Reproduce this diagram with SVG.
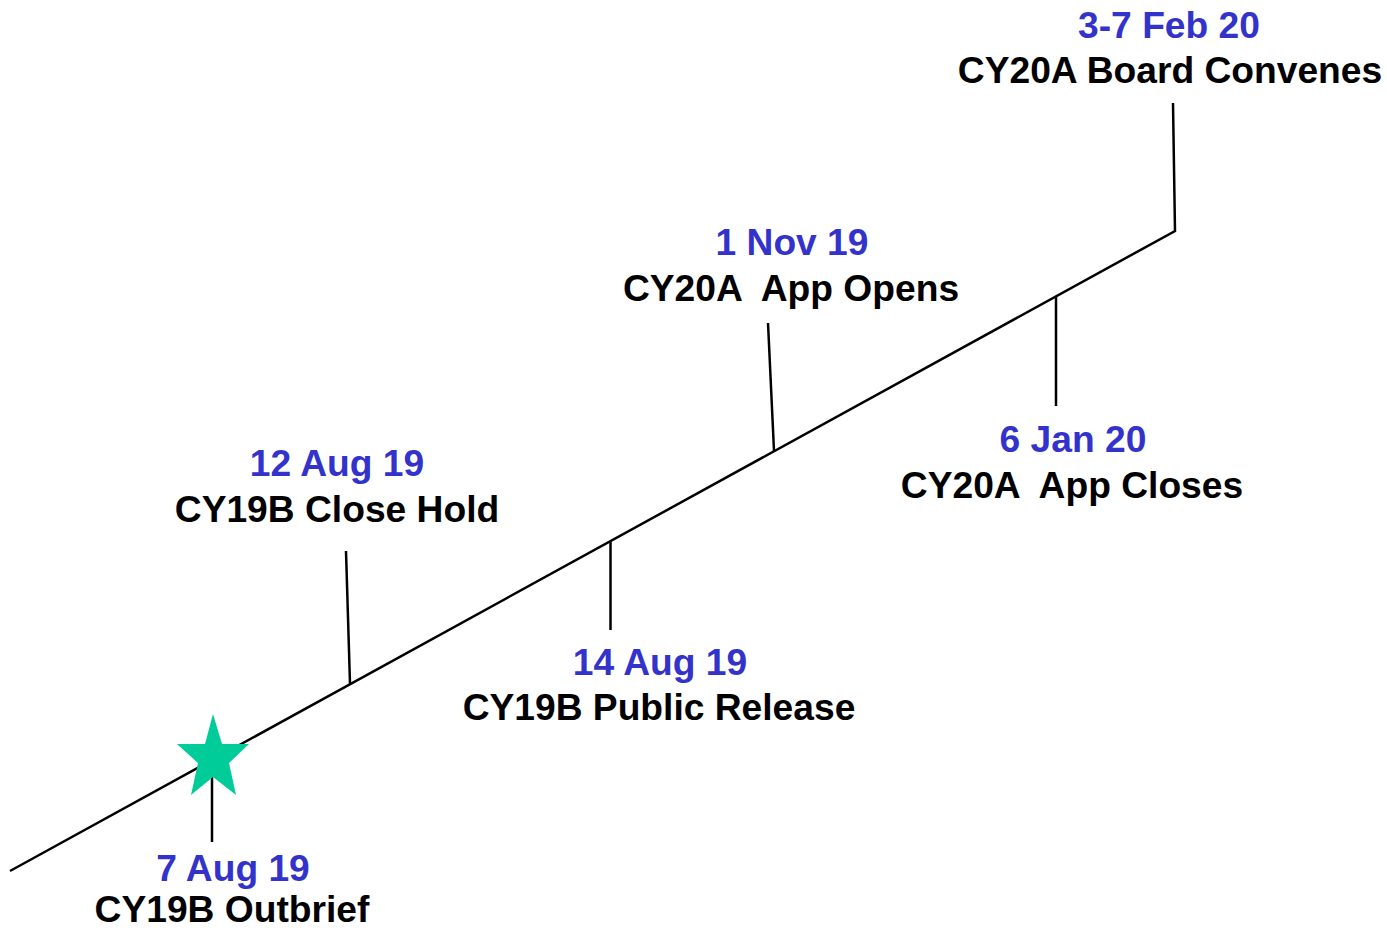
<svg xmlns="http://www.w3.org/2000/svg" width="1387" height="930" viewBox="0 0 1387 930">
<style>
.ln{stroke:#000;stroke-width:2.5;fill:none;stroke-linecap:butt}
.t{font-family:"Liberation Sans",Arial,sans-serif;font-weight:bold;font-size:37.2px;text-anchor:middle;white-space:pre}
.d{fill:#3333CC}
.k{fill:#000}
</style>
<rect width="1387" height="930" fill="#fff"/>
<g id="connectors">
<polyline class="ln" points="10,871 1175,231 1173,103"/>
<line class="ln" x1="212" y1="777" x2="212" y2="842"/>
<line class="ln" x1="346" y1="551" x2="350" y2="684"/>
<line class="ln" x1="610.5" y1="542" x2="610.5" y2="630"/>
<line class="ln" x1="768" y1="323" x2="774" y2="451"/>
<line class="ln" x1="1056" y1="297" x2="1056" y2="406"/>
</g>
<g id="star">
<polygon fill="#00CC99" points="213,714 222,744 249,744 229,763 236,795 213,777 191,795 198,763 177,744 205,744"/>
</g>
<g id="n-outbrief">
<text class="t d" x="233" y="881">7 Aug 19</text>
<text class="t k" x="232" y="922">CY19B Outbrief</text>
</g>
<g id="n-closehold">
<text class="t d" x="337" y="476">12 Aug 19</text>
<text class="t k" x="337" y="522">CY19B Close Hold</text>
</g>
<g id="n-publicrelease">
<text class="t d" x="660" y="675">14 Aug 19</text>
<text class="t k" x="659" y="720">CY19B Public Release</text>
</g>
<g id="n-appopens">
<text class="t d" x="792" y="255">1 Nov 19</text>
<text class="t k" x="791" y="301" xml:space="preserve">CY20A  App Opens</text>
</g>
<g id="n-appcloses">
<text class="t d" x="1073" y="452">6 Jan 20</text>
<text class="t k" x="1072" y="498" xml:space="preserve">CY20A  App Closes</text>
</g>
<g id="n-board">
<text class="t d" x="1169" y="38">3-7 Feb 20</text>
<text class="t k" x="1170" y="83">CY20A Board Convenes</text>
</g>
</svg>
